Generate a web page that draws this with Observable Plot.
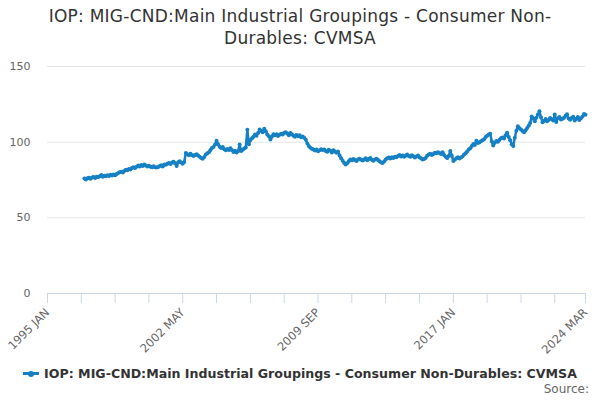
<!DOCTYPE html>
<html>
<head>
<meta charset="utf-8">
<script src="https://cdn.jsdelivr.net/npm/d3@7"></script>
<script src="https://cdn.jsdelivr.net/npm/@observablehq/plot@0.6"></script>
<style>
  html, body { margin: 0; padding: 0; background: #fff; }
  #wrap { position: relative; width: 600px; height: 400px; overflow: hidden; font-family: "DejaVu Sans", sans-serif; }
  #title { position: absolute; left: 0; top: 5px; width: 600px; text-align: center; font-size: 17px; letter-spacing: 0.25px; line-height: 22px; color: #333; }
  #chart { position: absolute; left: 0; top: 0; }
  #legend { position: absolute; left: 0; top: 365px; width: 600px; text-align: center; font-size: 12.6px; font-weight: bold; color: #333; line-height: 18px; }
  #legend .sw { display: inline-block; position: relative; width: 16px; height: 3px; background: #1680c4; vertical-align: middle; margin-right: 5px; top: -1px; }
  #legend .sw::after { content: ""; position: absolute; left: 5px; top: -1.5px; width: 6px; height: 6px; border-radius: 3px; background: #1680c4; }
  #source { position: absolute; right: 11px; top: 382px; font-size: 12px; color: #666; }
</style>
</head>
<body>
<div id="wrap">
  <div id="title">IOP: MIG-CND:Main Industrial Groupings - Consumer Non-<br>Durables: CVMSA</div>
  <div id="chart"></div>
  <div id="legend"><span class="sw"></span>IOP: MIG-CND:Main Industrial Groupings - Consumer Non-Durables: CVMSA</div>
  <div id="source">Source:</div>
</div>
<script>
// Monthly values, 1997 JAN .. 2024 MAR
const startYear = 1997;
const values = [
  // 1997
  76.0, 75.4, 76.2, 76.5, 75.8, 76.6, 77.0, 76.4, 77.2, 76.9, 77.5, 78.3,
  // 1998
  77.2, 77.8, 77.5, 78.1, 77.6, 78.4, 78.0, 78.7, 78.2, 79.0, 79.6, 80.1,
  // 1999
  80.4, 80.0, 81.0, 81.8, 81.4, 82.3, 82.0, 82.9, 83.5, 83.0, 83.8, 84.5,
  // 2000
  84.0, 84.9, 84.3, 85.2, 84.6, 84.0, 84.4, 83.8, 83.5, 84.1, 83.4, 83.2,
  // 2001
  83.6, 84.2, 84.7, 84.0, 85.3, 85.0, 85.8, 86.2, 85.5, 86.6, 87.0, 86.1,
  // 2002
  84.3, 86.8, 87.4, 86.5, 85.8, 86.9, 92.8, 92.0, 91.4, 92.3, 91.6, 90.8,
  // 2003
  91.5, 92.0, 91.2, 90.4, 89.6, 89.0, 90.2, 91.8, 92.6, 93.4, 94.8, 96.2,
  // 2004
  96.8, 98.4, 100.9, 98.6, 97.0, 96.1, 96.8, 95.4, 94.6, 95.5, 94.8, 95.9,
  // 2005
  94.6, 93.5, 94.3, 93.1, 94.0, 98.4, 94.2, 95.0, 95.8, 96.5, 108.2, 98.6,
  // 2006
  101.4, 102.6, 103.5, 105.1, 104.3, 106.0, 108.4, 107.6, 106.5, 108.8, 107.2, 105.0,
  // 2007
  103.9, 101.8, 103.5, 105.3, 104.6, 105.2, 104.1, 104.9, 105.6, 105.0, 106.2, 106.6,
  // 2008
  105.8, 104.5, 106.0, 105.2, 104.3, 103.6, 104.8, 103.9, 104.5, 103.2, 103.8, 102.9,
  // 2009
  101.6, 99.2, 97.4, 96.3, 95.7, 95.1, 94.5, 95.2, 94.0, 94.6, 95.3, 94.8,
  // 2010
  95.1, 94.2, 93.6, 95.0, 94.4, 93.2, 94.7, 93.8, 93.0, 93.9, 91.2, 89.4,
  // 2011
  87.8, 86.3, 85.2, 86.1, 87.4, 88.5, 88.0, 88.9, 88.2, 87.6, 88.6, 89.1,
  // 2012
  88.4, 87.9, 88.6, 89.3, 88.1, 88.8, 89.5, 88.3, 87.7, 88.5, 89.1, 88.2,
  // 2013
  87.4, 86.6, 86.3, 87.2, 88.5, 89.4, 89.9, 89.2, 90.1, 89.6, 90.4, 90.0,
  // 2014
  90.8, 91.5, 90.6, 91.2, 90.3, 91.0, 91.8, 90.9, 90.4, 91.3, 90.7, 89.8,
  // 2015
  90.5, 91.2, 90.1, 89.3, 88.5, 88.9, 89.6, 91.0, 91.8, 92.4, 91.5, 92.2,
  // 2016
  93.0, 92.6, 93.4, 92.8, 92.1, 93.3, 91.6, 90.4, 89.5, 90.8, 94.2, 91.0,
  // 2017
  87.6, 88.5, 89.4, 90.0, 89.2, 89.9, 90.6, 91.8, 92.7, 93.9, 95.2, 96.0,
  // 2018
  97.4, 98.8, 98.2, 100.9, 99.5, 99.9, 100.6, 101.2, 102.0, 103.4, 104.3, 105.1,
  // 2019
  105.6, 100.4, 97.8, 99.6, 100.8, 100.2, 101.5, 102.6, 103.1, 102.4, 104.6, 106.3,
  // 2020
  103.4, 101.2, 98.6, 97.4, 103.0, 107.6, 110.5, 109.2, 108.4, 107.3, 106.6, 107.8,
  // 2021
  109.4, 110.8, 112.6, 117.0, 115.6, 113.8, 116.2, 118.3, 120.4, 116.5, 113.2, 114.0,
  // 2022
  115.3, 113.8, 114.6, 116.0, 115.1, 114.3, 118.2, 113.4, 115.8, 116.6, 114.9, 115.4,
  // 2023
  116.2, 117.5, 118.4, 115.6, 114.8, 115.9, 116.8, 114.3, 115.4, 116.6, 114.7, 115.8,
  // 2024
  117.0, 118.6, 118.1
];
const yTicks = [0, 50, 100, 150];
const xTickMonths = [0, 22, 44, 66, 88, 110, 132, 154, 176, 198, 220, 242, 264, 286, 308, 330, 350]; // months since 1995 JAN
const xLabelMonths = [0, 88, 176, 264, 350];

const monthDate = (y, m) => new Date(Date.UTC(y, m, 1));
const data = values.map((v, i) => ({ date: monthDate(startYear, i), value: v }));
const xTicks = xTickMonths.map(m => monthDate(1995, m));
const xLabels = xLabelMonths.map(m => monthDate(1995, m));
const fmt = d => d3.utcFormat("%Y %b")(d).toUpperCase();
const color = "#1680c4";

const chart = Plot.plot({
  width: 600,
  height: 360,
  marginTop: 66,
  marginBottom: 67,
  marginLeft: 47,
  marginRight: 15,
  style: { fontFamily: "DejaVu Sans, sans-serif", fontSize: "11px", color: "#666", background: "transparent" },
  x: { type: "utc", domain: [monthDate(1995, 0), monthDate(1995, 350)] },
  y: { domain: [0, 150] },
  marks: [
    Plot.gridY(yTicks.filter(t => t > 0), { stroke: "#e6e6e6", strokeOpacity: 1, strokeWidth: 1 }),
    Plot.axisY(yTicks, { tickSize: 0, tickPadding: 17, label: null, fontSize: 11, fill: "#666" }),
    Plot.ruleY([0], { stroke: "#ccd6eb", strokeWidth: 1 }),
    Plot.axisX(xTicks, { tickSize: 10, stroke: "#ccd6eb", tickFormat: () => "", label: null }),
    Plot.axisX(xLabels, { tickSize: 0, tickPadding: 17, tickRotate: -45, tickFormat: fmt, label: null, fontSize: 11.5, fill: "#666" }),
    Plot.line(data, { x: "date", y: "value", stroke: color, strokeWidth: 2.5 }),
    Plot.dot(data, { x: "date", y: "value", fill: color, r: 2 })
  ]
});
document.getElementById("chart").appendChild(chart);
</script>
</body>
</html>
